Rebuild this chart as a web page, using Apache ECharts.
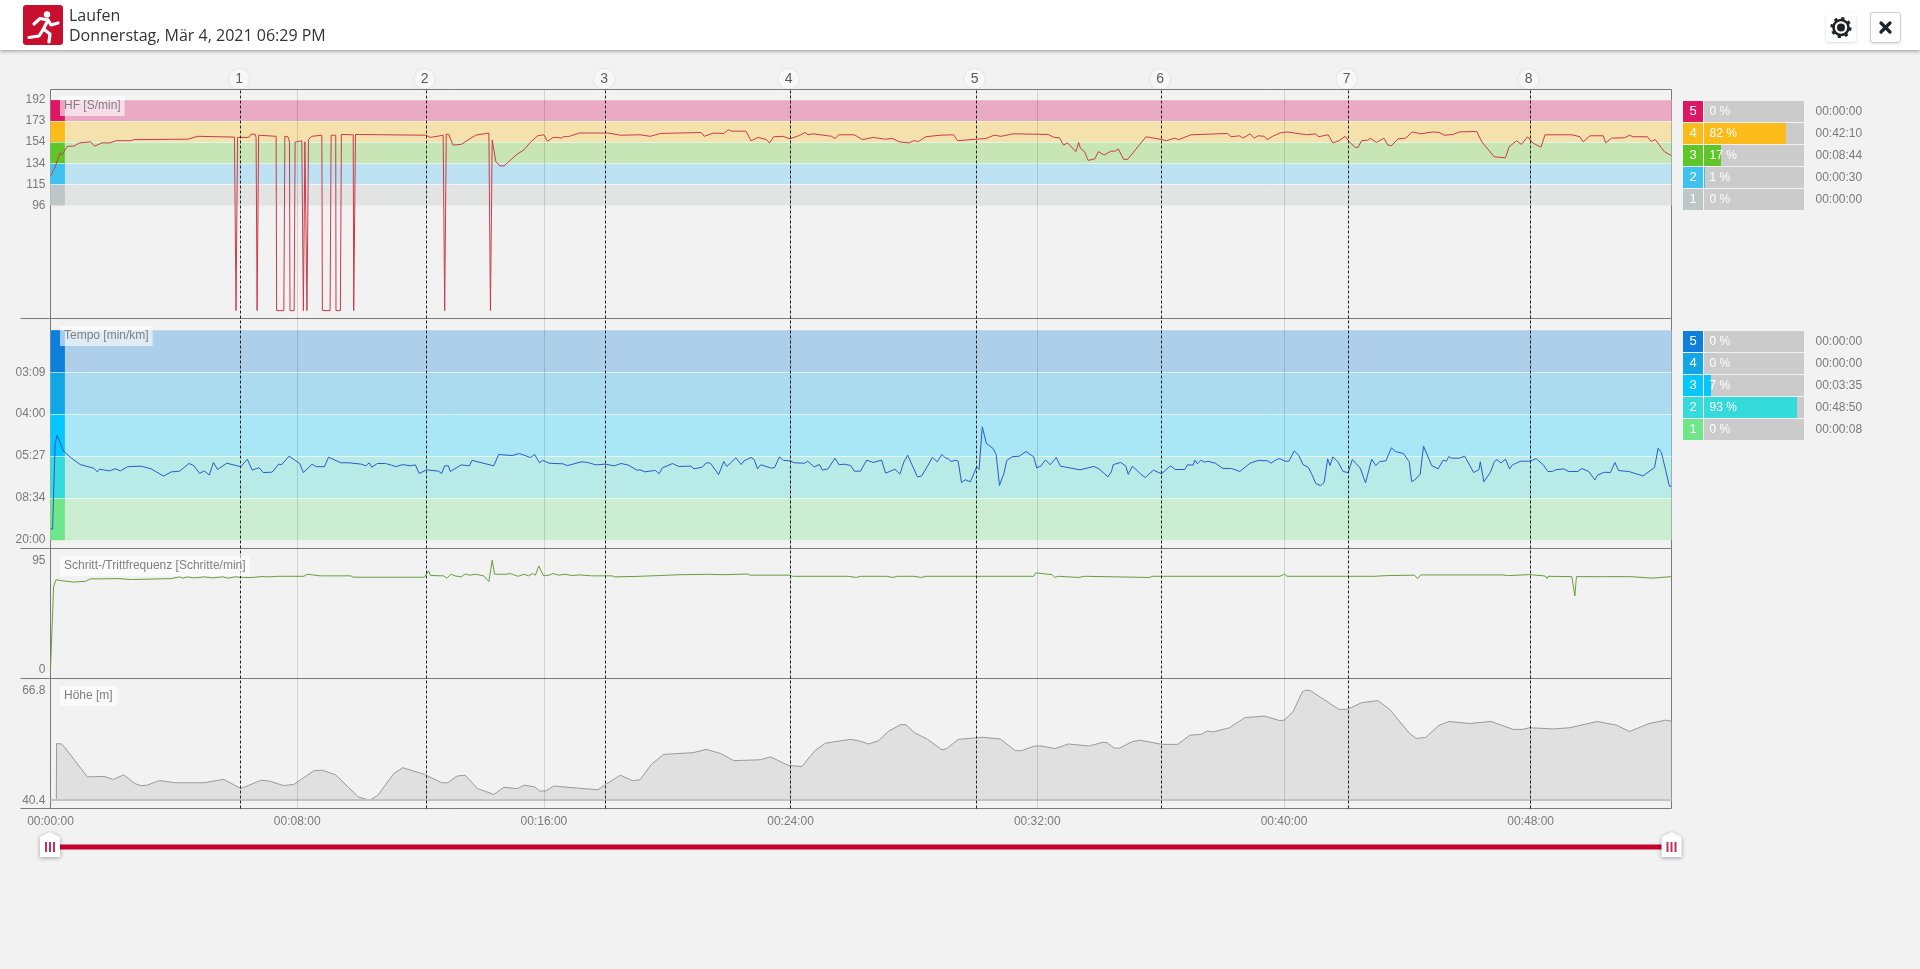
<!DOCTYPE html>
<html lang="de"><head><meta charset="utf-8"><title>Laufen</title>
<script src="https://cdn.jsdelivr.net/npm/echarts@6/dist/echarts.min.js"></script>
<style>
html,body{margin:0;padding:0;background:#f2f2f2;overflow:hidden}
#chart{position:absolute;left:0;top:0;width:1920px;height:969px}
#hdr{position:absolute;left:0;top:0;width:1920px;height:50px;background:#fff;box-shadow:0 1px 4px rgba(0,0,0,.4);z-index:5;font-family:"Open Sans",sans-serif;font-size:16px;color:#333}
#hdr .t{position:absolute;left:69px;line-height:20px}
#ic{position:absolute;left:23px;top:5px;width:40px;height:40px}
#gear{position:absolute;left:1826px;top:13px;width:30px;height:29px;border-radius:3px;box-shadow:0 1px 3px rgba(0,0,0,.15)}
#x{position:absolute;left:1870px;top:12px;width:29px;height:29px;border:1px solid #ccc;border-radius:3px;box-shadow:0 1px 2px rgba(0,0,0,.12)}
</style></head><body>
<div id="chart"></div>
<div id="hdr">
<svg id="ic" viewBox="0 0 40 40"><rect width="40" height="40" rx="3" fill="#c8102e"/><circle cx="24" cy="9.5" r="3.2" fill="#fff"/><g fill="none" stroke="#fff" stroke-width="3.2" stroke-linejoin="round" stroke-linecap="round"><path d="M11 19L17 13.5L25 15L28 20L35 18"/><path d="M25 15L20.5 24L27 29L26 37"/><path d="M20.5 24L16 31L6 32.5"/></g></svg>
<div class="t" style="top:5px">Laufen</div><div class="t" style="top:25px">Donnerstag, Mär 4, 2021 06:29 PM</div>
<svg id="gear" viewBox="0 0 30 29"><circle cx="15" cy="14.5" r="7.5" fill="none" stroke="#1d2327" stroke-width="2.6"/><circle cx="15" cy="14.5" r="4" fill="#1d2327"/><circle cx="15" cy="14.5" r="9.3" fill="none" stroke="#1d2327" stroke-width="2.6" stroke-dasharray="3.2 4.1"/></svg>
<svg id="x" viewBox="0 0 29 29"><path d="M10 10L19 19M19 10L10 19" stroke="#1d2327" stroke-width="3.2" stroke-linecap="round"/></svg>
</div>
<script>
// Chart data, values. Time in seconds.
const TIME_MAX = 3154;
const timeTicks = [0,480,960,1440,1920,2400,2880];
const lapTimes = [370,731,1080,1439,1801,2162,2525,2879];
const lapNames = ['1','2','3','4','5','6','7','8'];

const hfTicks = [192,173,154,134,115,96];
const tempoTicks = [19,15,11,7,3];          // km/h, labelled as pace min/km
const tempoLimits = [23,19,15,11,7,3];
const cadenceTicks = [95,0];
const heightTicks = [66.8,40.4];

const zoneIds = ['5','4','3','2','1'];
const hfStrip = ['#dc1763','#fbbc1b','#5fc62a','#3fc3ee','#bfc6c8'];
const hfBand  = ['#ebaac4','#f5e1ac','#c8e6b5','#bde3f2','#e2e4e3'];
const hfPct   = [0,82,17,1,0];
const hfDur   = ['00:00:00','00:42:10','00:08:44','00:00:30','00:00:00'];
const tempoStrip = ['#0f7fdb','#12a6e5','#06c7fb','#35dada','#6fe68a'];
const tempoBand  = ['#aecfe9','#abdbee','#a9e6f6','#b8ebe8','#cbeed2'];
const tempoPct   = [0,0,7,93,0];
const tempoDur   = ['00:00:00','00:00:00','00:03:35','00:48:50','00:00:08'];

const hfData = [[0,122.7],[9,131],[18.5,144],[22,142],[33,150],[45,150],[57,153],[78,154],[86,150],[100,153],[116,153],[128,155],[157,155],[162,156],[173,156],[176,155],[267,156.4],[287,159],[358,158.3],[361,0],[364,158],[386,158],[390,161],[398,161],[400,158],[402,0],[405,160],[439,159],[440,0],[454,0],[456,159],[462,158.5],[465,154],[466,0],[474,0],[476,153.7],[479,155],[489,155],[492,0],[494,0],[495,154],[497,155.5],[499,0],[500.5,0],[502,156],[508,159],[528,160],[529,0],[544,0],[546,160],[555,160],[555.5,0],[564,0],[566,160.7],[589,160.4],[590,0],[593.4,160.7],[596.5,161.3],[731,160],[739,158],[764,160],[767,0],[770,161],[775,160.7],[783,151],[799,151.6],[827,160],[853,162],[856,0],[859.4,155.5],[866.5,136],[874.5,132],[882.4,132],[894,137],[906,142],[922,147],[931.6,152.5],[948,159.5],[960,160.4],[967,154.6],[978,158],[986,158],[994,157.3],[998,158.6],[1009.5,159],[1029,162],[1085,162],[1109,160],[1147,160.4],[1167,159],[1187,161.6],[1266,162.5],[1272,159],[1290,162],[1310,161.6],[1319,165],[1325.5,163.7],[1353,163.7],[1363,155],[1377,158],[1393,156],[1399,152.8],[1407,158.6],[1425,159],[1439,156.7],[1457,159.8],[1468,162.5],[1474,160.4],[1484,161.3],[1520,159],[1526.5,157],[1534,160.4],[1564,160.4],[1580,156],[1601,158],[1623,156.4],[1639,157],[1651,154],[1671,153],[1679,155],[1689,154.3],[1703,158.6],[1731,160],[1757,160.4],[1765,155],[1802,156.4],[1820,157],[1836,160],[1849.6,159],[1873,161.3],[1941,160.7],[1953,158],[1963,157.7],[1971,151],[1979,153],[1995,145],[2000.5,153.4],[2004,148],[2012,145],[2019,137],[2032,138.5],[2039,145],[2050,142],[2064,145.5],[2072,145.5],[2077.5,147.6],[2088,138],[2096,138],[2131.5,158.6],[2163,156],[2171,155],[2187,157.3],[2195,156],[2219,160.4],[2290,161.6],[2297,158.6],[2314,159.5],[2320,157.3],[2334,161.3],[2342,157.3],[2350,159.5],[2362,159],[2367,156],[2378,159],[2392,162],[2406,163],[2444,160.4],[2462,161.3],[2467,158.6],[2486,160.4],[2495,153],[2507,155],[2519,159],[2527,154],[2539,148.8],[2544,149],[2551,155],[2563,155.5],[2568,157.3],[2580,153.4],[2594.5,157.3],[2602,151],[2609,150.4],[2622,156.7],[2636.5,157.3],[2650,163],[2666,161.3],[2690,163],[2702,162.5],[2712,160],[2729.5,160.7],[2741,163],[2775,163.4],[2785,154],[2809,140.3],[2831,139.4],[2838,149.4],[2852.5,155],[2862,151.6],[2874,158.6],[2884,153],[2900,149],[2908,160.4],[2960,160.4],[2976,158.6],[2982,154],[2995.5,159.5],[3021,159.5],[3026,153],[3037,157.3],[3063,157.7],[3072.5,160],[3079,158.6],[3107,158.6],[3114.5,154.3],[3122.5,156],[3140,145],[3153.5,141.5]];

const tempoData = [[0,4.1],[4,4.05],[9,12.2],[13,13],[25,11.5],[41,10.8],[58,10.2],[84.4,9.85],[91,9.5],[95,9.76],[115,9.6],[126.5,9.8],[136,9.6],[150,10],[176,10.05],[195.6,9.8],[220,9.1],[235,9.5],[251,9.57],[269.4,10.3],[279,10.1],[290,9.35],[299,9.6],[309,9.2],[317,10.4],[325,9.73],[343,10.33],[370,10],[383,10.7],[392.5,9.67],[406,9.9],[414,9.44],[430,9.47],[435,9.67],[444,10.24],[450,10.2],[464,11],[485,10.3],[492,9.44],[509,10.24],[517,10],[533,10],[541,10.9],[565,10.37],[581,10.37],[604.5,10.24],[614,10.08],[620,10.37],[625,9.95],[636,10.3],[652,10.3],[664,10.14],[672,10],[685.5,10.2],[700,10.08],[710,10.17],[717.3,9.35],[731.5,9.7],[755,9.57],[761,9.35],[767,10.08],[774,10.08],[778,9.54],[799,10.17],[815,10.08],[820,10.6],[862.5,10.08],[872,11.16],[898,11.06],[912.6,11.25],[934,10.87],[942,11.16],[951.5,10.37],[958,10.6],[970,10.33],[997.5,10.27],[1005.5,10.1],[1033,10.46],[1045,10.4],[1061,10.17],[1079,10.24],[1097,10.08],[1110,10.3],[1125,10.14],[1140.5,9.67],[1147,9.7],[1156.4,9.51],[1177,9.64],[1184,9.32],[1190.6,9.89],[1210.4,10.3],[1222,10.02],[1246,10.05],[1252,9.8],[1268,9.95],[1276,10.37],[1284,10.33],[1300,9.25],[1310,10.49],[1316,10.02],[1333.5,10.84],[1344,10.2],[1349.4,10.56],[1363,10.87],[1369,10.68],[1375.6,9.8],[1382,10.18],[1402.6,9.86],[1409,9.92],[1418.4,10.94],[1426,10.59],[1439,10.56],[1447,10.37],[1467,10.33],[1473,10.52],[1486,9.98],[1496,10.2],[1502,9.67],[1513,9.8],[1526.4,10.81],[1534.4,10.18],[1544,10.24],[1546,10.11],[1557,10.11],[1564,9.57],[1576,9.57],[1588,10.62],[1601,10.4],[1617,10.62],[1625,9.38],[1643,9.76],[1652.7,9.29],[1660.6,10.46],[1667.8,11.1],[1686.8,9.03],[1694.8,9.1],[1706.7,10.08],[1716,10.9],[1725,10.46],[1734.5,11.16],[1741,10.84],[1746.4,10.78],[1752,10.49],[1762,10.62],[1766,10.52],[1772.6,8.49],[1780,8.75],[1790,8.56],[1802,9.98],[1806.7,9.73],[1813,13.8],[1821,12.2],[1834,11.73],[1840,11.16],[1846.4,8.21],[1855,9.35],[1860.7,10.59],[1871,10.94],[1885,11],[1898,11.45],[1913,10.94],[1918.7,9.89],[1927,10.05],[1936,10.65],[1945,10.18],[1957,10.87],[1965,10.05],[2003,9.7],[2030,10.02],[2040,9.8],[2057.6,9.03],[2064,9.51],[2068,10.2],[2082,10.4],[2092,10.08],[2097,9.26],[2105,10.05],[2122,9.26],[2130,8.97],[2146,9.67],[2161.6,9.32],[2179,10.08],[2188.6,9.73],[2207,9.73],[2212.4,10.18],[2223,10.14],[2226.7,10.62],[2231.5,10.27],[2238.6,10.62],[2245,10.43],[2252,10.52],[2266.4,10.33],[2281,9.83],[2298,9.83],[2314,9.54],[2334,10.33],[2350,10.59],[2368,10.56],[2375,10.33],[2385.5,10.68],[2392,10.77],[2401.5,10.52],[2409.5,10.52],[2420,11.5],[2429,11.06],[2437,10.2],[2447.6,9.92],[2454,9.28],[2462,8.39],[2471.4,8.2],[2478,8.49],[2485,10.74],[2489.7,10.11],[2495,10.93],[2505,10.46],[2515,9.54],[2525,9.44],[2533,10.68],[2548.4,9.86],[2558.7,8.46],[2570.6,10.71],[2578.6,10.11],[2586.5,10.49],[2598.4,10.55],[2609,11.79],[2617,11.44],[2632.6,11.25],[2643.7,10.46],[2648.5,8.58],[2654,8.71],[2665,9.28],[2671.5,11.95],[2687.4,10.11],[2700,9.79],[2709.6,10.62],[2716,10.52],[2720.7,10.97],[2725.5,10.81],[2741,10.81],[2751.7,11],[2769,9.44],[2779.5,9.73],[2782,10.46],[2789,8.55],[2801.7,9.47],[2809,10.46],[2814.4,10.68],[2822,10.36],[2831,10.71],[2839,9.79],[2844.6,10.17],[2860.5,10.52],[2878,10.52],[2890.6,10.77],[2904,10.2],[2913.7,9.54],[2922.4,9.54],[2928,9.7],[2944,9.79],[2954,9.54],[2971.6,9.54],[2979.6,9.82],[2993,9.54],[3005,8.74],[3010,9.19],[3023,9.47],[3035,9.44],[3044,10.39],[3051,9.63],[3071,9.54],[3098.7,9.12],[3121,9.92],[3128,11.76],[3134.4,11.35],[3150,8.14],[3153.5,8.14]];

const cadenceData = [[0,0],[3.5,0],[6,72],[10.6,78],[25,77],[45,76],[68.5,76.7],[78,78.8],[100,78.8],[132,79],[157.5,78.2],[235,79],[251,80.5],[257.5,79.4],[267,80.5],[279,79.6],[299,80.5],[315,79.6],[334.5,80.5],[346.4,79.4],[358,80.5],[378,80],[394,80],[410,80.8],[426,80.5],[442,81],[445.7,79.3],[449.6,81],[493,81],[499,82.8],[525,81.4],[584.6,81.4],[588.6,80.2],[727.5,80.2],[735.5,85.7],[739.5,81.7],[765,81.4],[771,79.3],[779,82.8],[787,81.4],[799,80.5],[807,83],[815,82],[827,82.8],[843,81.4],[853,76.4],[859.4,95],[864,82.8],[886.4,82.8],[894,83.4],[910,81],[922,82.8],[930,81.4],[938,83.4],[943.5,82],[950,90],[959.4,81.4],[970,82],[977.7,83.4],[989.6,82],[1001.5,82.8],[1013.4,81.7],[1029,82.2],[1053,81.4],[1093,81.4],[1097,80.5],[1147,81],[1226,82.4],[1282,82.7],[1310,82.4],[1357,83],[1361,82],[1437,82],[1445,81],[1552,81],[1568,80],[1576,81],[1627,81],[1639,80],[1647,81],[1680,81],[1695,80],[1703,81],[1913,81],[1917,84],[1949,82.4],[1954,80],[1961,81],[2000,80],[2012,81],[2139,80],[2144,81],[2392,81],[2401.5,83],[2406,81],[2575,81],[2577,82.4],[2600,81.6],[2654,82],[2660,79],[2666,82.2],[2825,82.2],[2837,81.6],[2876,82.5],[2908,81.3],[2912,79],[2913.7,81],[2960,80.7],[2966,64],[2969,80.7],[3001,80.7],[3003,79],[3005,80.7],[3021.6,80.7],[3025,79],[3029,80.7],[3066,80.7],[3069,79.6],[3075,80.7],[3116,79.4],[3119,80.7],[3153.5,80.7]];

const heightData = [[11.4,40.4],[11.8,54],[21,53.9],[27,53.2],[71.7,46],[104.3,46.1],[122.5,45.4],[142.4,46.5],[164,44.4],[175.7,43.9],[187.6,44],[211.5,45.1],[243.2,44.6],[298.8,44.6],[337,45.4],[370.3,43.2],[410,45.2],[425.8,45],[453.6,43.9],[473.5,44.2],[513,47.5],[529,47.6],[554.5,46.5],[598.9,41.2],[620.4,40.4],[636.3,41.5],[668,46.8],[685.5,48.2],[727.6,46.6],[761,44.6],[772.8,44.6],[791,46.2],[807,46.4],[830.8,43.2],[862.5,41.8],[882.4,43.5],[908.6,43.2],[922,44],[942,43.6],[952,42.6],[963,42.6],[979,43.8],[1065,42.9],[1080,44.2],[1108.7,46.4],[1132.5,45.1],[1147,45.3],[1169,49],[1193,51.4],[1250,51.8],[1276,52.6],[1304,51.6],[1329.5,49.9],[1381,50.1],[1401,50.8],[1436.7,48.7],[1462,48.5],[1488,52.4],[1508,54.1],[1556,55],[1572,54.7],[1591.5,53.9],[1611.4,54.7],[1631,57],[1655,58.6],[1664.6,58.5],[1681,56.6],[1706.7,55],[1734.5,52.5],[1744,52.8],[1766,55],[1814,55.5],[1848,55.1],[1877.4,52.3],[1889,52.3],[1914.7,53.4],[1929,53.4],[1954.4,52.8],[1980.6,53.9],[2020,53.4],[2048,54.3],[2056,54.2],[2070,52.9],[2080,52.9],[2103.7,54.4],[2119.5,54.8],[2163,53.8],[2193,53.8],[2217,56],[2238.7,56.2],[2250.6,57],[2262.5,56.8],[2294,57.8],[2323.6,60.2],[2361.7,60.6],[2392,59.5],[2400,59.6],[2417.4,61.6],[2435.7,66.4],[2442,66.8],[2451.6,66.7],[2507,62.2],[2523,62.2],[2551,63.8],[2582.6,64.3],[2604.8,62.3],[2644.5,56.4],[2658,55.2],[2676,55.5],[2701.7,58.4],[2721.5,59.3],[2761,58.8],[2802.5,59.3],[2846,57.4],[2864.4,57.4],[2878,57.8],[2924,57.5],[2956,57.8],[3009.7,59.3],[3047,58.4],[3072.5,56.9],[3110.6,58.8],[3142,59.6],[3153.5,59.4]];

// Layout
const L = 50.5, R = 1920 - 1671.5, GREY = '#7a7a7a', FONT = '"Liberation Sans",Arial,sans-serif';
const panels = [
  {top:89.5, h:229, min:-7.19, max:201.71, ticks:hfTicks},
  {top:318.5,h:230, min:2.205, max:24.115, ticks:tempoTicks},
  {top:548.5,h:130, min:-7.83, max:105.17, ticks:cadenceTicks},
  {top:678.5,h:130, min:38.41, max:69.61, ticks:heightTicks}
];
const sec2hms = s => { const p = n => String(Math.floor(n)).padStart(2,'0'); return p(s/3600)+':'+p(s/60%60)+':'+p(s%60); };
const pace = kmh => { const t = Math.floor(3600/kmh); return String(Math.floor(t/60)).padStart(2,'0')+':'+String(t%60).padStart(2,'0'); };
const stripWidth = 28;

const grid = [], xAxis = [], yAxis = [], series = [];
panels.forEach((p,i)=>{
  grid.push({left:L,right:R,top:p.top,height:p.h,show:true,borderColor:GREY,borderWidth:1,backgroundColor:'transparent'});
  xAxis.push({type:'value',gridIndex:i,min:0,max:TIME_MAX,show:false});
  yAxis.push({type:'value',gridIndex:i,min:p.min,max:p.max,splitLine:{show:false},axisLine:{show:false},axisTick:{show:false},
    axisLabel:{show:true,customValues:p.ticks,color:GREY,fontFamily:FONT,fontSize:12,margin:5,
      formatter: i===1 ? (v=>pace(v)) : (v=>String(v))}});
});
// Overlay grid: time axis, minute grid lines, lap markers
const OV = 4;
grid.push({left:L,right:R,top:89.5,height:719});
xAxis.push({type:'value',gridIndex:OV,min:0,max:TIME_MAX,z:6,interval:480,
  axisLine:{show:false},axisTick:{show:false},
  axisLabel:{customValues:timeTicks,color:GREY,fontFamily:FONT,fontSize:12,margin:7.5,formatter:v=>sec2hms(v)},
  splitLine:{show:true,showMaxLine:false,showMinLine:false,lineStyle:{color:'rgba(0,0,0,0.13)',width:1}}});
yAxis.push({type:'value',gridIndex:OV,min:0,max:1,show:false});

function bands(ix, limits, band, strip){
  const areas = [];
  band.forEach((c,k)=>{
    areas.push([{yAxis:limits[k],xAxis:0,itemStyle:{color:c,opacity:1}},{yAxis:limits[k+1],xAxis:TIME_MAX}]);
  });
  strip.forEach((c,k)=>{
    areas.push([{yAxis:limits[k],xAxis:0,itemStyle:{color:c,opacity:1}},{yAxis:limits[k+1],xAxis:stripWidth}]);
  });
  series.push({type:'line',xAxisIndex:ix,yAxisIndex:ix,data:[],z:1,silent:true,
    markArea:{silent:true,data:areas},
    markLine:{silent:true,symbol:'none',label:{show:false},lineStyle:{color:'rgba(255,255,255,0.55)',type:'solid',width:1},
      data:limits.slice(1,-1).map(v=>({yAxis:v}))}});
}
const hfLimits = [192,173,154,134,115,96];
bands(0,hfLimits,hfBand,hfStrip);
bands(1,tempoLimits,tempoBand,tempoStrip);

const lineOf = (ix,data,color,extra) => Object.assign({type:'line',xAxisIndex:ix,yAxisIndex:ix,data,z:8,symbol:'none',silent:true,
  lineStyle:{color,width:1},clip:true},extra||{});
series.push(lineOf(0,hfData,'#cc3a4c'));
series.push(lineOf(1,tempoData,'#2a5bc8'));
series.push(lineOf(2,cadenceData,'#6b9c3e'));
series.push(lineOf(3,heightData,'#9a9a9a',{z:3,areaStyle:{color:'#e0e0e0',opacity:1,origin:40.4}}));
// grey base line of the height panel
series[series.length-1].markLine={silent:true,symbol:'none',label:{show:false},lineStyle:{color:'#c4c4c4',type:'solid',width:2},data:[{yAxis:40.4}]};

series.push({type:'scatter',xAxisIndex:OV,yAxisIndex:OV,z:12,silent:true,clip:false,
  data:lapTimes.map((t,i)=>({value:[t,1.0146],name:lapNames[i]})),
  symbol:'circle',symbolSize:20,symbolOffset:[-1.5,0],
  itemStyle:{color:'#fff',shadowBlur:3,shadowColor:'rgba(0,0,0,0.15)'},
  label:{show:true,position:'inside',formatter:'{b}',color:'#333',fontFamily:FONT,fontSize:14},
  markLine:{silent:true,symbol:'none',animation:false,label:{show:false},z:11,
    lineStyle:{color:'#222',type:[3,2],width:1},data:lapTimes.map(t=>({xAxis:t}))}});

// Zone tables
function table(top, strips, pct, dur){
  const g = grid.length, h = 110;
  grid.push({left:1683,width:20,top,height:h});
  xAxis.push({type:'value',gridIndex:g,min:0,max:1,show:false});
  yAxis.push({type:'category',gridIndex:g,data:zoneIds,inverse:true,show:false});
  series.push({type:'bar',xAxisIndex:g,yAxisIndex:g,barWidth:21,z:5,silent:true,
    data:zoneIds.map((z,i)=>({value:1,name:z,itemStyle:{color:strips[i]}})),
    label:{show:true,position:'inside',formatter:'{b}',color:'#fff',fontFamily:FONT,fontSize:13}});
  const b = grid.length;
  grid.push({left:1704,width:100,top,height:h});
  xAxis.push({type:'value',gridIndex:b,min:0,max:100,show:false});
  yAxis.push({type:'category',gridIndex:b,data:dur,inverse:true,position:'right',
    axisLine:{show:false},axisTick:{show:false},splitLine:{show:false},
    axisLabel:{color:GREY,fontFamily:FONT,fontSize:12,margin:11.5}});
  series.push({type:'bar',xAxisIndex:b,yAxisIndex:b,barWidth:21,z:5,silent:true,
    showBackground:true,backgroundStyle:{color:'#cbcbcb',opacity:1},
    data:pct.map((v,i)=>({value:v,itemStyle:{color:strips[i]}}))});
  series.push({type:'bar',xAxisIndex:b,yAxisIndex:b,barWidth:21,barGap:'-100%',z:6,silent:true,
    data:pct.map(v=>({value:100,itemStyle:{color:'transparent'},label:{formatter:v+' %'}})),
    label:{show:true,position:'insideLeft',distance:5.5,color:'#fff',fontFamily:FONT,fontSize:12}});
}
table(100.5,hfStrip,hfPct,hfDur);
table(330.5,tempoStrip,tempoPct,tempoDur);

// Chrome: panel titles, separators, range slider
const titles = [['HF [S/min]',60,96],['Tempo [min/km]',60,326],['Schritt-/Trittfrequenz [Schritte/min]',60,556],['Höhe [m]',60,686]];
const graphic = [];
titles.forEach(([t,x,y])=>graphic.push({type:'text',z:20,silent:true,x,y,style:{text:t,fill:'#808080',font:'12px '+FONT,
  backgroundColor:'rgba(255,255,255,0.6)',padding:[4,4,4,4]}}));
[318.5,548.5,678.5,808.5].forEach(y=>graphic.push({type:'line',z:2,silent:true,shape:{x1:20.5,y1:y,x2:L,y2:y},style:{stroke:GREY,lineWidth:1}}));
graphic.push({type:'rect',z:15,silent:true,shape:{x:50,y:844.5,width:1621,height:5},style:{fill:'#c8002d'}});
[50,1671.5].forEach(cx=>{
  graphic.push({type:'polygon',z:16,silent:true,shape:{points:[[cx-10,837],[cx,832],[cx+10,837],[cx+10,857],[cx-10,857]]},
    style:{fill:'#fff',shadowBlur:4,shadowColor:'rgba(0,0,0,0.35)',shadowOffsetY:1}});
  [-5,-1,3].forEach(d=>graphic.push({type:'rect',z:17,silent:true,shape:{x:cx+d,y:842,width:2,height:10},style:{fill:'#c0305a'}}));
});

const chart = echarts.init(document.getElementById('chart'),null,{renderer:'canvas'});
chart.setOption({animation:false,backgroundColor:'#f2f2f2',tooltip:{show:false},grid,xAxis,yAxis,series,graphic});
</script>
</body></html>
